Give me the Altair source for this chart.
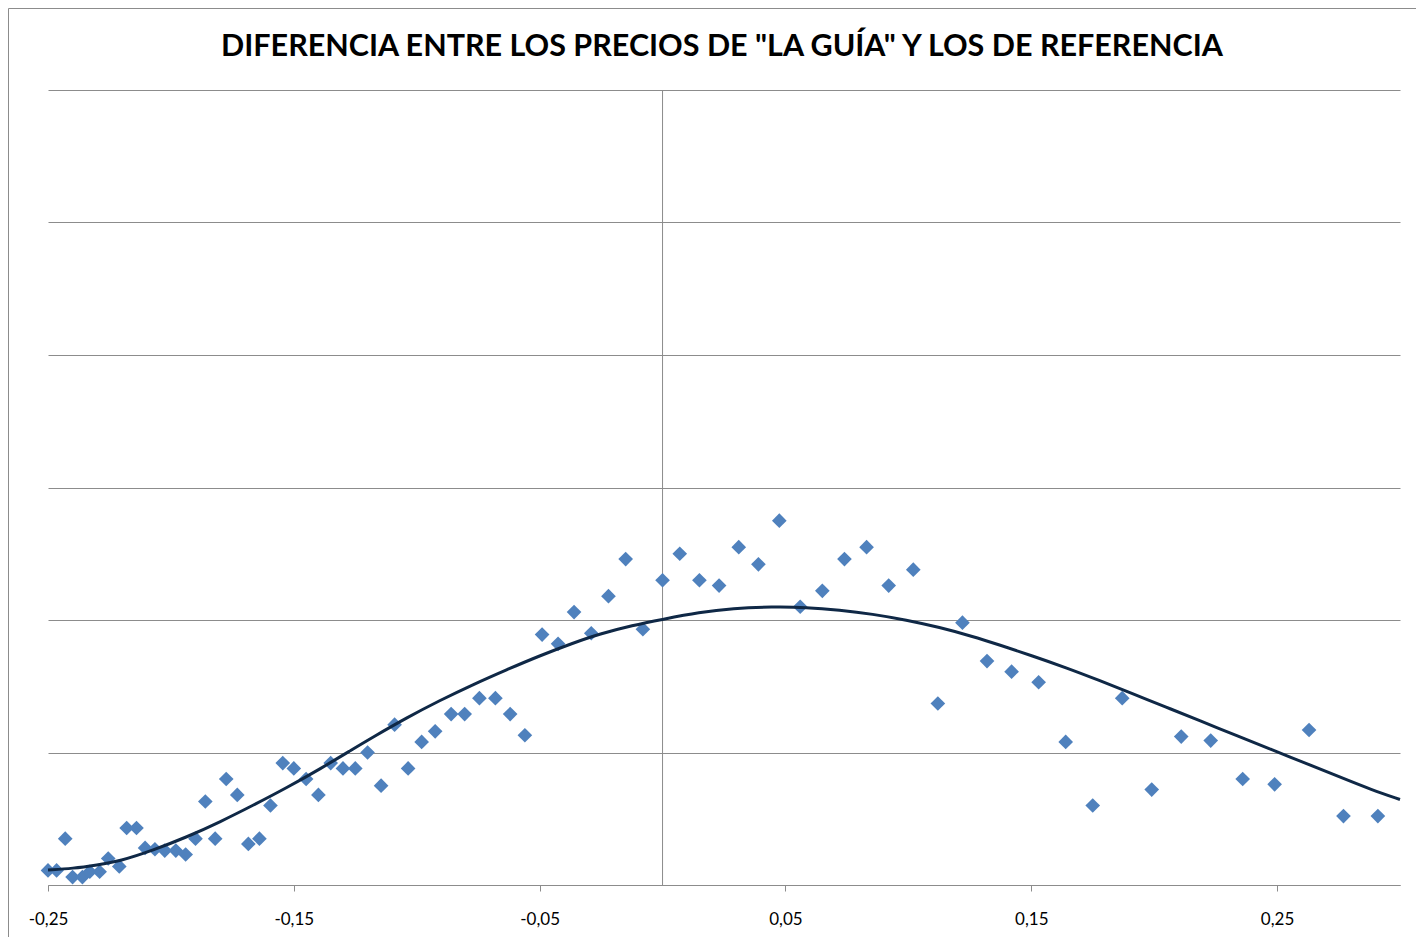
import altair as alt
import pandas as pd

# Scatter points (difference, frequency in grid units)
pts_x = [-0.250, -0.2465, -0.243, -0.240, -0.236, -0.233, -0.229, -0.2255, -0.221, -0.218,
         -0.214, -0.2105, -0.2065, -0.2025, -0.198, -0.194, -0.190, -0.186, -0.182, -0.1775,
         -0.173, -0.1685, -0.164, -0.1595, -0.1545, -0.150, -0.145, -0.140, -0.135, -0.130,
         -0.125, -0.120, -0.1145, -0.109, -0.1035, -0.098, -0.0925, -0.086, -0.0805, -0.0745,
         -0.068, -0.062, -0.056, -0.049, -0.0425, -0.036, -0.029, -0.022, -0.015, -0.008,
         0.000, 0.007, 0.015, 0.023, 0.031, 0.039, 0.0475, 0.056, 0.065, 0.074,
         0.083, 0.092, 0.102, 0.112, 0.122, 0.132, 0.142, 0.153, 0.164, 0.175,
         0.187, 0.199, 0.211, 0.223, 0.236, 0.249, 0.263, 0.277, 0.291]
pts_y = [0.11, 0.11, 0.35, 0.06, 0.06, 0.10, 0.10, 0.20, 0.14, 0.43,
         0.43, 0.28, 0.27, 0.26, 0.26, 0.23, 0.35, 0.63, 0.35, 0.80,
         0.68, 0.31, 0.35, 0.60, 0.92, 0.88, 0.80, 0.68, 0.92, 0.88,
         0.88, 1.00, 0.75, 1.21, 0.88, 1.08, 1.16, 1.29, 1.29, 1.41,
         1.41, 1.29, 1.13, 1.89, 1.82, 2.06, 1.90, 2.18, 2.46, 1.93,
         2.30, 2.50, 2.30, 2.26, 2.55, 2.42, 2.75, 2.10, 2.22, 2.46,
         2.55, 2.26, 2.38, 1.37, 1.98, 1.69, 1.61, 1.53, 1.08, 0.60,
         1.41, 0.72, 1.12, 1.09, 0.80, 0.76, 1.17, 0.52, 0.52]

# Trend curve
fit_x = [-0.2500, -0.2398, -0.2301, -0.2207, -0.2073, -0.1935, -0.1801, -0.1667, -0.1528, -0.1394,
         -0.1260, -0.1179, -0.1041, -0.0907, -0.0772, -0.0634, -0.0500, -0.0366, -0.0256, -0.0122,
         0.0000, 0.0150, 0.0285, 0.0447, 0.0585, 0.0720, 0.0854, 0.0992, 0.1126, 0.1260,
         0.1370, 0.1504, 0.1642, 0.1776, 0.1911, 0.2049, 0.2183, 0.2346, 0.2480, 0.2618,
         0.2752, 0.2886, 0.3000]
fit_y = [0.113, 0.125, 0.151, 0.180, 0.262, 0.362, 0.475, 0.600, 0.735, 0.875,
         1.025, 1.115, 1.262, 1.392, 1.512, 1.625, 1.730, 1.825, 1.895, 1.960,
         2.005, 2.058, 2.088, 2.100, 2.096, 2.075, 2.045, 2.000, 1.945, 1.877,
         1.812, 1.730, 1.640, 1.545, 1.445, 1.342, 1.242, 1.120, 1.020, 0.918,
         0.817, 0.717, 0.645]

x_ticks = [-0.25, -0.15, -0.05, 0.05, 0.15, 0.25]
y_grid = [0, 1, 2, 3, 4, 5, 6]
title_text = 'DIFERENCIA ENTRE LOS PRECIOS DE "LA GUÍA" Y LOS DE REFERENCIA'

pts = pd.DataFrame({"x": pts_x, "y": pts_y})
fit = pd.DataFrame({"x": fit_x, "y": fit_y})

W, H = 1352, 795
GRID = "#8c8c8c"
xs = alt.Scale(domain=[-0.25, 0.30], nice=False, zero=False)
ys = alt.Scale(domain=[0, 6], nice=False, zero=False)

x_axis = alt.Axis(
    values=x_ticks,
    labelExpr="replace(replace(format(datum.value, '.2f'), '.', ','), '\u2212', '-')",
    grid=False, domainColor=GRID, tickColor=GRID, tickSize=6,
    labelFont="Lato", labelFontSize=17, labelColor="#000000", labelPadding=20,
    title=None, labelFlush=False,
)
y_axis = alt.Axis(values=y_grid, grid=True, gridColor=GRID, gridOpacity=1,
                  labels=False, ticks=False, domain=False, title=None)

scatter = alt.Chart(pts).mark_point(
    shape="diamond", filled=True, size=215, color="#4F81BD", opacity=1
).encode(
    x=alt.X("x:Q", scale=xs, axis=x_axis),
    y=alt.Y("y:Q", scale=ys, axis=y_axis),
)

vline = alt.Chart(pd.DataFrame({"v": [0.0]})).mark_rule(color=GRID, strokeWidth=1).encode(
    x=alt.X("v:Q", scale=xs)
)

curve = alt.Chart(fit).mark_line(color="#0F2846", strokeWidth=3, interpolate="basis").encode(
    x=alt.X("x:Q", scale=xs),
    y=alt.Y("y:Q", scale=ys),
)

frame = alt.Chart(pd.DataFrame({"a": [0]})).mark_rect(
    fillOpacity=0, stroke="#8c8c8c", strokeWidth=1
).encode(
    x=alt.value(-39.5), x2=alt.value(W + 100), y=alt.value(-81.5), y2=alt.value(H + 100)
)

title = alt.Chart(pd.DataFrame({"t": [title_text]})).mark_text(
    font="Lato", fontSize=30.5, fontWeight="bold", color="#000000",
    align="center", baseline="middle"
).encode(
    text="t:N", x=alt.value(W / 2 - 2), y=alt.value(-43)
)

chart = alt.layer(vline, scatter, curve, frame, title).properties(
    width=W, height=H,
    autosize=alt.AutoSizeParams(type="none"),
    padding={"left": 40, "top": 82, "right": 16, "bottom": 52},
    background="white",
).configure_view(strokeWidth=0)

chart.save("out.html", embed_options={"renderer": "svg", "actions": False})
